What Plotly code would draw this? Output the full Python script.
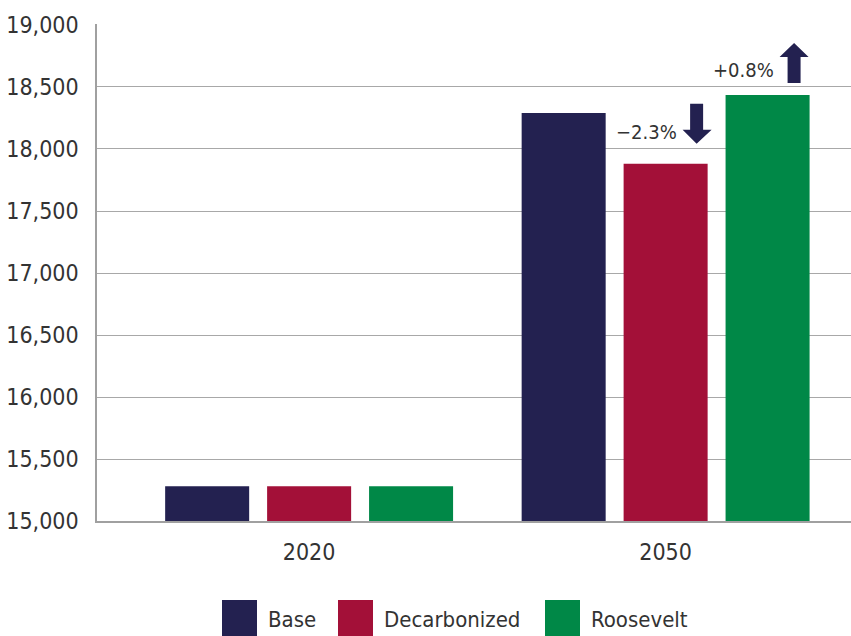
import plotly.graph_objects as go

years = ["2020", "2050"]
series_names = ["Base", "Decarbonized", "Roosevelt"]
base_vals = [15280, 18290]
decarb_vals = [15280, 17880]
roosevelt_vals = [15280, 18435]
change_labels = ["\u22122.3%", "+0.8%"]
y_ticks = [15000, 15500, 16000, 16500, 17000, 17500, 18000, 18500, 19000]
y_tick_text = ["15,000", "15,500", "16,000", "16,500", "17,000", "17,500", "18,000", "18,500", "19,000"]

colors = ["#232150", "#A31038", "#008847"]
FONT = "'DejaVu Sans Condensed', 'Liberation Sans Narrow', 'Roboto Condensed', Roboto, sans-serif"
TXT = "#333333"

BARGAP = 0.142
BARGROUPGAP = 0.176
slot = (1 - BARGAP) / 3  # width of each trace slot in category units

fig = go.Figure()
for name, vals, c in zip(series_names, [base_vals, decarb_vals, roosevelt_vals], colors):
    fig.add_trace(go.Bar(x=years, y=vals, name=name, marker=dict(color=c, line=dict(width=0)),
                         showlegend=False))

arrow_col = "#232150"
dx = 1
fig.add_annotation(x=dx, y=decarb_vals[1], xref="x", yref="y", text=change_labels[0],
                   showarrow=False, xanchor="right", yanchor="middle", xshift=13, yshift=32,
                   font=dict(family=FONT, size=20, color=TXT))
down_path = "M 24.5 60 L 37.5 60 L 37.5 34 L 46 34 L 31 20 L 17 34 L 24.5 34 Z"
fig.add_shape(type="path", xref="x", yref="y", xsizemode="pixel", ysizemode="pixel",
              xanchor=dx, yanchor=decarb_vals[1], path=down_path,
              fillcolor=arrow_col, line=dict(width=0))
rx = 1 + slot
fig.add_annotation(x=rx, y=roosevelt_vals[1], xref="x", yref="y", text=change_labels[1],
                   showarrow=False, xanchor="right", yanchor="middle", xshift=8, yshift=25,
                   font=dict(family=FONT, size=20, color=TXT))
up_path = "M 20 12 L 33 12 L 33 38 L 41 38 L 26.5 52 L 12 38 L 20 38 Z"
fig.add_shape(type="path", xref="x", yref="y", xsizemode="pixel", ysizemode="pixel",
              xanchor=rx, yanchor=roosevelt_vals[1], path=up_path,
              fillcolor=arrow_col, line=dict(width=0))

legend_x = [222, 338, 545]
W, H = 851, 636
ml, mr, mt, mb = 97, 0, 24, 115
pw, ph = W - ml - mr, H - mt - mb
def px_to_paper_x(px):
    return (px - ml) / pw
def py_to_paper_y(py):
    return (H - mb - py) / ph
for name, c, lx in zip(series_names, colors, legend_x):
    fig.add_shape(type="rect", xref="paper", yref="paper",
                  x0=px_to_paper_x(lx), x1=px_to_paper_x(lx + 35),
                  y0=py_to_paper_y(637), y1=py_to_paper_y(600),
                  fillcolor=c, line=dict(width=0))
    fig.add_annotation(x=px_to_paper_x(lx + 44), y=py_to_paper_y(619), xref="paper", yref="paper",
                       text=name, showarrow=False, xanchor="left", yanchor="middle",
                       font=dict(family=FONT, size=22, color=TXT))

fig.update_layout(
    width=W, height=H,
    margin=dict(l=ml, r=mr, t=mt, b=mb, autoexpand=False),
    paper_bgcolor="white", plot_bgcolor="white",
    barmode="group", bargap=BARGAP, bargroupgap=BARGROUPGAP,
    font=dict(family=FONT, size=22, color=TXT),
    showlegend=False,
)
fig.update_xaxes(type="category", range=[-0.595, 1.52], showline=True, linecolor="#a0a0a0",
                 linewidth=1.5, showgrid=False, ticks="", automargin=False, ticklabelstandoff=10,
                 tickfont=dict(family=FONT, size=23, color=TXT))
fig.update_yaxes(range=[15000, 19008], tickvals=y_ticks, ticktext=y_tick_text,
                 showline=True, linecolor="#a0a0a0", linewidth=1.5,
                 showgrid=True, gridcolor="#a8a8a8", gridwidth=1.2, zeroline=False,
                 ticks="", ticklabelstandoff=12, automargin=False,
                 tickfont=dict(family=FONT, size=23, color=TXT))

fig.write_html("out.html", config={"displayModeBar": False},
               post_script="document.body.style.margin='0';")
